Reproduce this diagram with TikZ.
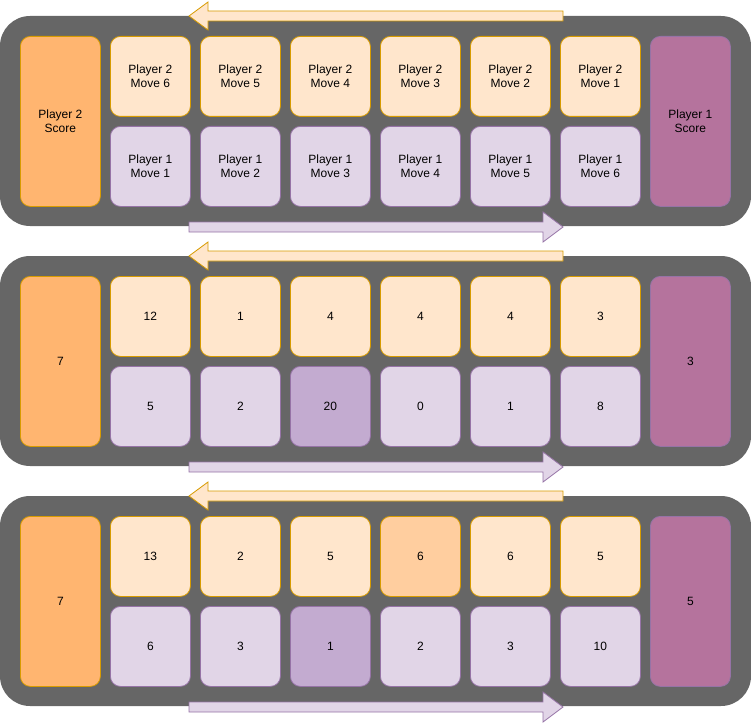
\documentclass[tikz,border=0pt]{standalone}
\usepackage{fontspec}
\setmainfont{Liberation Sans}
\definecolor{panelgray}{HTML}{666666}
\definecolor{orfill}{HTML}{FFE6CC}
\definecolor{orline}{HTML}{D79B00}
\definecolor{orscore}{HTML}{FFB570}
\definecolor{orhi}{HTML}{FFCE9F}
\definecolor{pufill}{HTML}{E1D5E7}
\definecolor{puline}{HTML}{9673A6}
\definecolor{puscore}{HTML}{B5739D}
\definecolor{puhi}{HTML}{C3ABD0}
\tikzset{
  panel/.style={fill=panelgray, draw=none, rounded corners=30pt},
  cell/.style={rounded corners=10pt, line width=0.8pt, minimum width=80pt, minimum height=80pt,
     inner sep=0pt, align=center, font=\fontsize{12}{14}\selectfont, anchor=north west},
  topcell/.style={cell, fill=orfill, draw=orline},
  topcellhi/.style={cell, fill=orhi, draw=orline},
  botcell/.style={cell, fill=pufill, draw=puline},
  botcellhi/.style={cell, fill=puhi, draw=puline},
  lscore/.style={cell, minimum height=170pt, fill=orscore, draw=orline},
  rscore/.style={cell, minimum height=170pt, fill=puscore, draw=puline},
  orarrow/.style={fill=orfill, draw=orline, line width=0.8pt},
  puarrow/.style={fill=pufill, draw=puline, line width=0.8pt},
}
\begin{document}
\begin{tikzpicture}[x=1pt,y=-1pt]
\useasboundingbox (0,0) rectangle (751,722);
% panels
\foreach \k in {0,1,2}{
  \pgfmathsetmacro{\yo}{16+240*\k}
  \fill[panel] (0,\yo) rectangle (751,\yo+210);
}
% arrows
\foreach \k in {0,1,2}{
  \pgfmathsetmacro{\yo}{16+240*\k}
  \pgfmathsetmacro{\yb}{\yo+211}
  \draw[orarrow] (189,\yo) -- (208,\yo-14) -- (208,\yo-5) -- (563,\yo-5) -- (563,\yo+5) -- (208,\yo+5) -- (208,\yo+14) -- cycle;
  \draw[puarrow] (563,\yb) -- (543,\yb-15) -- (543,\yb-5) -- (189,\yb-5) -- (189,\yb+5) -- (543,\yb+5) -- (543,\yb+15) -- cycle;
}
% panel 1
\node[lscore] (s2a) at (20,36) {Player 2\\Score};
\node[rscore] (s1a) at (650,36) {Player 1\\Score};
\node[topcell] (t1a) at (110,36) {Player 2\\Move 6};
\node[topcell] (t2a) at (200,36) {Player 2\\Move 5};
\node[topcell] (t3a) at (290,36) {Player 2\\Move 4};
\node[topcell] (t4a) at (380,36) {Player 2\\Move 3};
\node[topcell] (t5a) at (470,36) {Player 2\\Move 2};
\node[topcell] (t6a) at (560,36) {Player 2\\Move 1};
\node[botcell] (b1a) at (110,126) {Player 1\\Move 1};
\node[botcell] (b2a) at (200,126) {Player 1\\Move 2};
\node[botcell] (b3a) at (290,126) {Player 1\\Move 3};
\node[botcell] (b4a) at (380,126) {Player 1\\Move 4};
\node[botcell] (b5a) at (470,126) {Player 1\\Move 5};
\node[botcell] (b6a) at (560,126) {Player 1\\Move 6};
% panel 2
\node[lscore] (s2b) at (20,276) {7};
\node[rscore] (s1b) at (650,276) {3};
\node[topcell] (t1b) at (110,276) {12};
\node[topcell] (t2b) at (200,276) {1};
\node[topcell] (t3b) at (290,276) {4};
\node[topcell] (t4b) at (380,276) {4};
\node[topcell] (t5b) at (470,276) {4};
\node[topcell] (t6b) at (560,276) {3};
\node[botcell] (b1b) at (110,366) {5};
\node[botcell] (b2b) at (200,366) {2};
\node[botcellhi] (b3b) at (290,366) {20};
\node[botcell] (b4b) at (380,366) {0};
\node[botcell] (b5b) at (470,366) {1};
\node[botcell] (b6b) at (560,366) {8};
% panel 3
\node[lscore] (s2c) at (20,516) {7};
\node[rscore] (s1c) at (650,516) {5};
\node[topcell] (t1c) at (110,516) {13};
\node[topcell] (t2c) at (200,516) {2};
\node[topcell] (t3c) at (290,516) {5};
\node[topcellhi] (t4c) at (380,516) {6};
\node[topcell] (t5c) at (470,516) {6};
\node[topcell] (t6c) at (560,516) {5};
\node[botcell] (b1c) at (110,606) {6};
\node[botcell] (b2c) at (200,606) {3};
\node[botcellhi] (b3c) at (290,606) {1};
\node[botcell] (b4c) at (380,606) {2};
\node[botcell] (b5c) at (470,606) {3};
\node[botcell] (b6c) at (560,606) {10};
\end{tikzpicture}
\end{document}
